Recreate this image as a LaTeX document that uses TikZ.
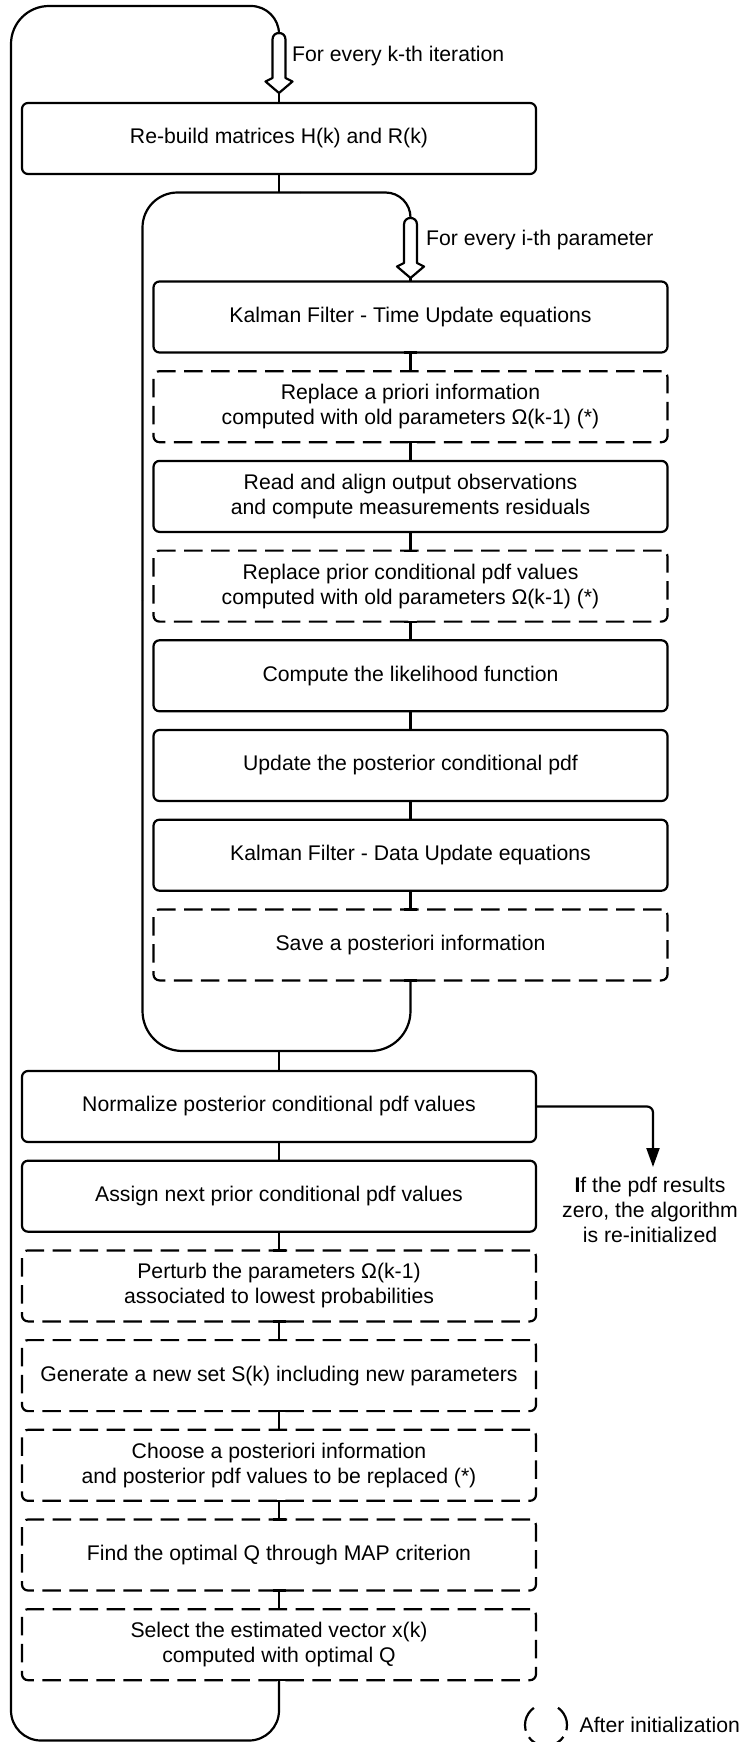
\documentclass[tikz,border=0pt]{standalone}
\usepackage{fontspec}
\setmainfont{Liberation Sans}
\usetikzlibrary{arrows.meta}

\begin{document}
\begin{tikzpicture}[x=1pt,y=-1pt,
  every node/.style={font=\fontsize{21.2}{25}\selectfont},
  procbox/.style={draw, line width=2.2pt, rounded corners=6pt, outer sep=0pt,
    minimum width=514pt, minimum height=71pt, align=center, inner sep=0pt},
  optbox/.style={procbox, dash pattern=on 18.5pt off 8.5pt},
  wire/.style={line width=2.2pt},
  barwire/.style={wire, {Bar[width=13pt]}-{Bar[width=13pt]},
    shorten <=-1.1pt, shorten >=-1.1pt},
  looppath/.style={line width=2.2pt},
  iterarrow/.pic={
    \draw[line width=2.2pt, line join=round]
      (-6.5,45) -- (-6.5,6.5) .. controls (-6.5,-2.2) and (6.5,-2.2) .. (6.5,6.5)
      -- (6.5,45) -- (13.5,48.5) -- (0,60) -- (-13.5,48.5) -- cycle;
    \coordinate (-tip) at (0,60);
  },
]
\useasboundingbox (0,0) rectangle (743,1742);

% ---- outer iteration: header box ----
\node[procbox] (reb) at (279,138.5) {Re-build matrices H(k) and R(k)};

% ---- inner loop over parameters ----
\node[procbox] (ktu) at (410.5,317)   {Kalman Filter - Time Update equations};
\node[optbox]  (rap) at (410.5,406.7) {Replace a priori information\\computed with old parameters Ω(k-1) (*)};
\node[procbox] (rao) at (410.5,496.4) {Read and align output observations\\and compute measurements residuals};
\node[optbox]  (rpc) at (410.5,586.1) {Replace prior conditional pdf values\\computed with old parameters Ω(k-1) (*)};
\node[procbox] (clf) at (410.5,675.8) {Compute the likelihood function};
\node[procbox] (upd) at (410.5,765.5) {Update the posterior conditional pdf};
\node[procbox] (kdu) at (410.5,855.2) {Kalman Filter - Data Update equations};
\node[optbox]  (sap) at (410.5,944.9) {Save a posteriori information};

% ---- outer iteration: remaining steps ----
\node[procbox] (nrm) at (279,1106.5) {Normalize posterior conditional pdf values};
\node[procbox] (asg) at (279,1196.2) {Assign next prior conditional pdf values};
\node[optbox]  (ptb) at (279,1285.9) {Perturb the parameters Ω(k-1)\\associated to lowest probabilities};
\node[optbox]  (gen) at (279,1375.6) {Generate a new set S(k) including new parameters};
\node[optbox]  (cho) at (279,1465.3) {Choose a posteriori information\\and posterior pdf values to be replaced (*)};
\node[optbox]  (fnd) at (279,1555)   {Find the optimal Q through MAP criterion};
\node[optbox]  (sel) at (279,1644.7) {Select the estimated vector x(k)\\computed with optimal Q};

% ---- loop entry arrows and their labels ----
\pic (karr) at (279,33) {iterarrow};
\pic (iarr) at (410.5,218) {iterarrow};
\node[anchor=base west, inner sep=0pt] (klab) at (292,61.7) {For every k-th iteration};
\node[anchor=base west, inner sep=0pt] (ilab) at (426,245) {For every i-th parameter};
\draw[wire] (karr-tip) -- (reb.north);
\draw[wire] (iarr-tip) -- (ktu.north);

% ---- outer loop frame ----
\coordinate (otop) at (279,33);
\coordinate (omidT) at (150,6);
\coordinate (omidL) at (11,900);
\coordinate (obot) at (279,1740.5);
\draw[looppath, rounded corners=28pt] (otop) |- (omidT);
\draw[looppath, rounded corners=38pt] (omidT) -| (omidL);
\draw[looppath, rounded corners=30pt, -{Bar[width=13pt]}, shorten >=-1.1pt]
  (omidL) |- (obot) -- (sel.south);

% ---- inner loop frame ----
\coordinate (itop) at (410.5,218);
\coordinate (imidT) at (300,192.5);
\coordinate (imidL) at (142.5,600);
\coordinate (ijoinT) at (279,192.5);
\coordinate (ijoinB) at (279,1051);
\coordinate (ibotL) at (142.5,1051);
\draw[looppath, rounded corners=25pt] (itop) |- (imidT);
\draw[looppath, rounded corners=35pt] (imidT) -| (imidL);
\draw[looppath, rounded corners=40pt, {Bar[width=13pt]}-, shorten <=-1.1pt]
  (sap.south) |- (ibotL) -- (imidL);

% ---- connectors ----
\draw[wire] (reb.south) -- (ijoinT);
\draw[wire] (ijoinB) -- (nrm.north);
\foreach \a/\b in {ktu/rap, rap/rao, rao/rpc, rpc/clf, clf/upd, upd/kdu, kdu/sap,
                   nrm/asg, asg/ptb, ptb/gen, gen/cho, cho/fnd, fnd/sel}
  \draw[barwire] (\a.south) -- (\b.north);

% ---- reset branch ----
\node[align=center, inner sep=0pt] (note) at (650,1210)
  {{\bfseries I}f the pdf results\\zero, the algorithm\\is re-initialized};
\coordinate (notetip) at (653,1167);
\draw[wire, rounded corners=6pt, -{Triangle[length=19pt,width=13pt]}] (nrm.east) -| (notetip);

% ---- legend ----
\node[draw, circle, line width=2.2pt, minimum size=42pt, inner sep=0pt,
  dash pattern=on 20.2pt off 25.7pt on 25.7pt off 7.3pt on 12.8pt off 14.7pt on 12.8pt off 7.3pt on 5.5pt off 0.1pt]
  (leg) at (546,1725) {};
\node[anchor=base west, inner sep=0pt] (legtxt) at (579.5,1732) {After initialization};
\end{tikzpicture}
\end{document}
